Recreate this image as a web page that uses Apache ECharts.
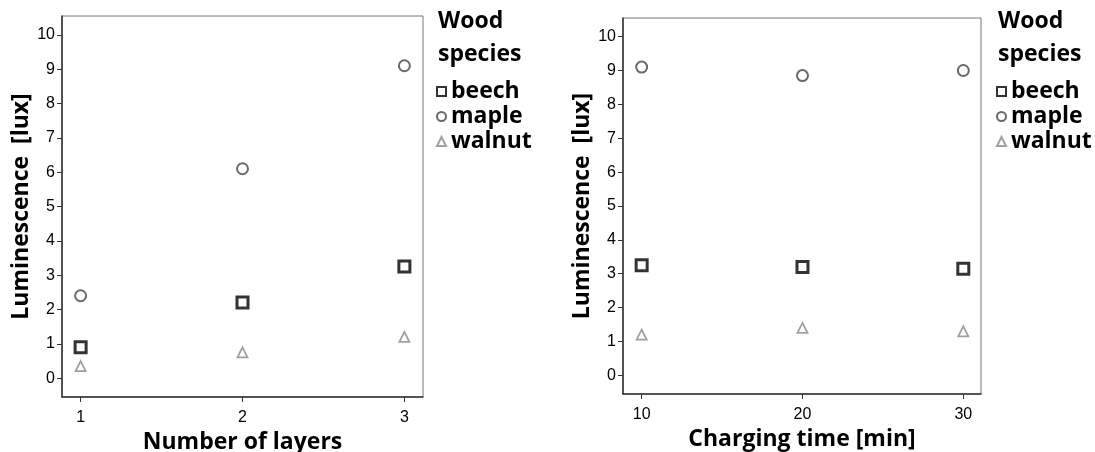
<!DOCTYPE html>
<html><head><meta charset="utf-8">
<script src="https://cdn.jsdelivr.net/npm/echarts@6/dist/echarts.min.js"></script>
<style>html,body{margin:0;padding:0;background:#fff}#c{width:1095px;height:452px}</style>
</head><body><div id="c"></div>
<script>
const speciesNames = ['beech', 'maple', 'walnut'];
const layersX = [1, 2, 3];
const layersBeech = [0.9, 2.2, 3.25];
const layersMaple = [2.4, 6.1, 9.1];
const layersWalnut = [0.35, 0.75, 1.2];
const timeX = [10, 20, 30];
const timeBeech = [3.25, 3.2, 3.15];
const timeMaple = [9.1, 8.85, 9.0];
const timeWalnut = [1.2, 1.4, 1.3];
const yTicks = [0,1,2,3,4,5,6,7,8,9,10];

const chart = echarts.init(document.getElementById('c'));
const tickFont = {fontFamily: 'Liberation Sans', fontSize: 16, color: '#000'};
const titleFont = {fontFamily: 'Open Sans', fontWeight: 'bold', fontSize: 23, color: '#000'};
const styles = {
  beech: {symbol: 'rect', symbolSize: 11, itemStyle: {color: '#fff', borderColor: '#000', borderWidth: 3}},
  maple: {symbol: 'circle', symbolSize: 11, itemStyle: {color: '#fff', borderColor: '#444', borderWidth: 2}},
  walnut: {symbol: 'triangle', symbolSize: 10, itemStyle: {color: '#fff', borderColor: '#888', borderWidth: 1.8}}
};
function mk(name, xs, ys, idx) {
  return Object.assign({type: 'scatter', name: name, xAxisIndex: idx, yAxisIndex: idx,
    data: xs.map((x, i) => [x, ys[i]])}, styles[name]);
}
function yAxis(idx) {
  return {type: 'value', gridIndex: idx, min: -0.55, max: 10.55,
    name: 'Luminescence  [lux]', nameLocation: 'middle', nameRotate: 90, nameGap: 28,
    nameTextStyle: titleFont,
    axisLine: {show: true, onZero: false, lineStyle: {color: '#333', width: 1.5}},
    axisTick: {show: true, length: 5, customValues: yTicks, lineStyle: {color: '#333'}},
    axisLabel: Object.assign({customValues: yTicks, margin: 7}, tickFont),
    splitLine: {show: false}};
}
function xAxis(idx, xs, mn, mx, nm, gap) {
  return {type: 'value', gridIndex: idx, min: mn, max: mx,
    name: nm, nameLocation: 'middle', nameGap: gap, nameTextStyle: titleFont,
    axisLine: {show: true, onZero: false, lineStyle: {color: '#333', width: 1.5}},
    axisTick: {show: true, length: 5, customValues: xs, lineStyle: {color: '#333'}},
    axisLabel: Object.assign({customValues: xs, margin: 13}, tickFont),
    splitLine: {show: false}};
}
chart.setOption({
  animation: false,
  grid: [
    {left: 62, top: 16, width: 361, height: 381, show: true, borderColor: '#777', borderWidth: 1, outerBoundsMode: 'none', containLabel: false},
    {left: 623, top: 18, width: 358, height: 376, show: true, borderColor: '#777', borderWidth: 1, outerBoundsMode: 'none', containLabel: false}
  ],
  xAxis: [xAxis(0, layersX, 0.885, 3.115, 'Number of layers', 27), xAxis(1, timeX, 8.84, 31.1, 'Charging time [min]', 29)],
  yAxis: [yAxis(0), yAxis(1)],
  title: [
    {text: 'Wood\nspecies', left: 433, top: 0, textStyle: Object.assign({lineHeight: 33}, titleFont)},
    {text: 'Wood\nspecies', left: 993, top: 0, textStyle: Object.assign({lineHeight: 33}, titleFont)}
  ],
  legend: [
    {orient: 'vertical', left: 431, top: 75, itemWidth: 9, itemHeight: 9, itemGap: 2, data: speciesNames, textStyle: titleFont},
    {orient: 'vertical', left: 991, top: 75, itemWidth: 9, itemHeight: 9, itemGap: 2, data: speciesNames, textStyle: titleFont}
  ],
  series: [
    mk('beech', layersX, layersBeech, 0), mk('maple', layersX, layersMaple, 0), mk('walnut', layersX, layersWalnut, 0),
    mk('beech', timeX, timeBeech, 1), mk('maple', timeX, timeMaple, 1), mk('walnut', timeX, timeWalnut, 1)
  ]
});
</script></body></html>
